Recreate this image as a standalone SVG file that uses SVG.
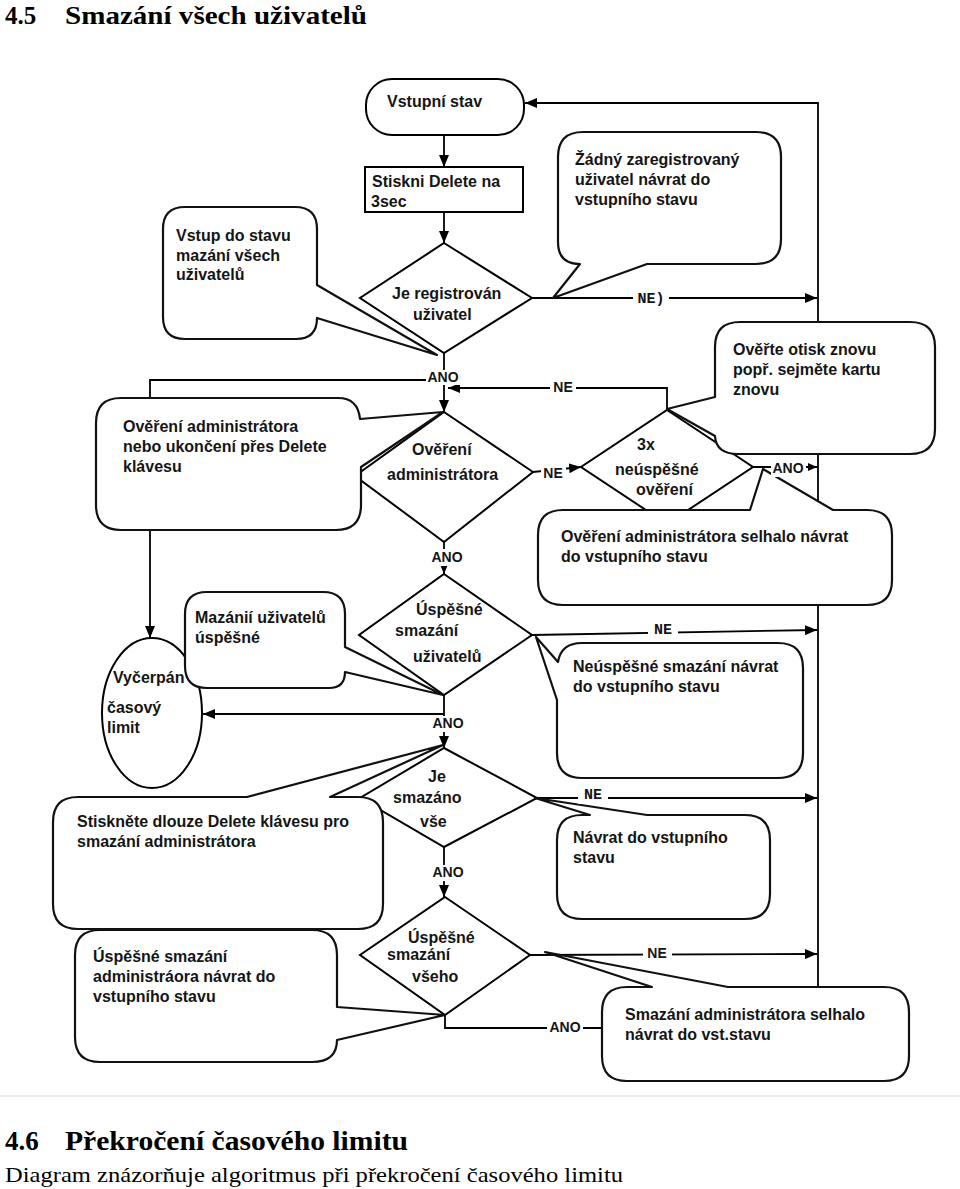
<svg xmlns="http://www.w3.org/2000/svg" width="960" height="1189" viewBox="0 0 960 1189">
<defs>
<marker id="ah" viewBox="0 0 12 10" refX="12" refY="5" markerWidth="12" markerHeight="10" markerUnits="userSpaceOnUse" orient="auto"><path d="M0,0 L12,5 L0,10 Z" fill="#000"/></marker>
<marker id="ahs" viewBox="0 0 9 8" refX="9" refY="4" markerWidth="9" markerHeight="8" markerUnits="userSpaceOnUse" orient="auto"><path d="M0,0 L9,4 L0,8 Z" fill="#000"/></marker>
</defs>
<style>
.ln{fill:none;stroke:#000;stroke-width:1.8}
.nd{fill:#fff;stroke:#000;stroke-width:2}
.cl{fill:#fff;stroke:#111;stroke-width:2.2;stroke-linejoin:round}
.t{font-family:"Liberation Sans",Arial,sans-serif;font-size:16px;font-weight:bold;fill:#151515}
.lb{font-family:"Liberation Sans",Arial,sans-serif;font-size:14px;font-weight:bold;fill:#151515;text-anchor:middle}
.mo{font-family:"Liberation Mono","Courier New",monospace;font-size:15px;font-weight:bold;fill:#151515;text-anchor:middle}
.bg{fill:#fff}
.h{font-family:"Liberation Serif","Times New Roman",serif;font-weight:bold;font-size:25px;fill:#000}
.h2{font-family:"Liberation Serif","Times New Roman",serif;font-weight:bold;font-size:27px;fill:#000}
.p{font-family:"Liberation Serif","Times New Roman",serif;font-size:22px;fill:#000}
</style>
<rect width="960" height="1189" fill="#fff"/>
<g id="headings">
<text class="h" x="5" y="24">4.5</text>
<text class="h" x="65" y="24" textLength="302" lengthAdjust="spacingAndGlyphs">Smazání všech uživatelů</text>
<line x1="0" y1="1096" x2="960" y2="1096" stroke="#e4e4e4" stroke-width="1.5"/>
<text class="h2" x="5" y="1150">4.6</text>
<text class="h2" x="65" y="1150" textLength="343" lengthAdjust="spacingAndGlyphs">Překročení časového limitu</text>
<text class="p" x="5" y="1182" textLength="618" lengthAdjust="spacingAndGlyphs">Diagram znázorňuje algoritmus při překročení časového limitu</text>
</g>
<g id="connectors">
<line class="ln" x1="444" y1="135" x2="444" y2="167" marker-end="url(#ah)"/>
<line class="ln" x1="444" y1="212" x2="444" y2="243" marker-end="url(#ah)"/>
<line class="ln" x1="532" y1="298" x2="817" y2="298" marker-end="url(#ah)"/>
<polyline class="ln" points="818,1000 818,103 525,103" marker-end="url(#ah)"/>
<line class="ln" x1="444" y1="353" x2="444" y2="412" marker-end="url(#ah)"/>
<polyline class="ln" points="444,380 150,380 150,638" marker-end="url(#ah)"/>
<polyline class="ln" points="667,410 667,388 448,388" marker-end="url(#ah)"/>
<line class="ln" x1="533" y1="472" x2="581" y2="467" marker-end="url(#ah)"/>
<line class="ln" x1="753" y1="467" x2="817" y2="467" marker-end="url(#ahs)"/>
<line class="ln" x1="444" y1="542" x2="444" y2="574" marker-end="url(#ah)"/>
<line class="ln" x1="532" y1="635" x2="817" y2="630" marker-end="url(#ah)"/>
<line class="ln" x1="444" y1="695" x2="444" y2="748" marker-end="url(#ah)"/>
<line class="ln" x1="444" y1="714" x2="203" y2="714" marker-end="url(#ah)"/>
<line class="ln" x1="537" y1="798" x2="817" y2="798" marker-end="url(#ah)"/>
<line class="ln" x1="444" y1="847" x2="444" y2="897" marker-end="url(#ah)"/>
<line class="ln" x1="530" y1="955" x2="817" y2="954" marker-end="url(#ah)"/>
<polyline class="ln" points="445,1015 445,1028 602,1028"/>
</g>
<g id="start">
<rect class="nd" x="366" y="79" width="158" height="56" rx="26"/>
<text class="t" x="387" y="107">Vstupní stav</text>
</g>
<g id="press-delete">
<rect class="nd" x="365" y="167" width="158" height="45" stroke-width="3"/>
<text class="t" x="372" y="187">Stiskni Delete na</text>
<text class="t" x="371" y="207">3sec</text>
</g>
<g id="is-registered">
<polygon class="nd" points="444,243 532,298 444,353 360,298"/>
<text class="t" x="392" y="299">Je registrován</text>
<text class="t" x="413" y="320">uživatel</text>
</g>
<g id="admin-verify">
<polygon class="nd" points="444,412 533,472 444,542 355,476"/>
<text class="t" x="412" y="455">Ověření</text>
<text class="t" x="387" y="480">administrátora</text>
</g>
<g id="three-fails">
<polygon class="nd" points="667,410 753,467 667,524 581,467"/>
<text class="t" x="637" y="450">3x</text>
<text class="t" x="615" y="475">neúspěšné</text>
<text class="t" x="636" y="495">ověření</text>
</g>
<g id="users-deleted">
<polygon class="nd" points="444,574 532,635 444,695 359,635"/>
<text class="t" x="416" y="615">Úspěšné</text>
<text class="t" x="395" y="636">smazání</text>
<text class="t" x="413" y="662">uživatelů</text>
</g>
<g id="all-deleted">
<polygon class="nd" points="444,748 537,798 444,847 360,798"/>
<text class="t" x="428" y="782">Je</text>
<text class="t" x="393" y="803">smazáno</text>
<text class="t" x="420" y="827">vše</text>
</g>
<g id="all-success">
<polygon class="nd" points="445,897 530,955 445,1015 360,955"/>
<text class="t" x="408" y="943">Úspěšné</text>
<text class="t" x="387" y="960">smazání</text>
<text class="t" x="412" y="982">všeho</text>
</g>
<g id="timeout">
<ellipse class="nd" cx="152" cy="713" rx="50" ry="75"/>
<text class="t" x="113" y="683">Vyčerpán</text>
<text class="t" x="107" y="713">časový</text>
<text class="t" x="107" y="733">limit</text>
</g>
<g id="note-no-user">
<path class="cl" d="M583,132 H756 Q781,132 781,157 V239 Q781,264 756,264 H647 L553,298 L580,264 Q558,264 558,242 V157 Q558,132 583,132 Z"/>
<text class="t" x="575" y="165">Žádný zaregistrovaný</text>
<text class="t" x="575" y="185">uživatel návrat do</text>
<text class="t" x="575" y="205">vstupního stavu</text>
</g>
<g id="note-enter">
<path class="cl" d="M185,207 H295 Q317,207 317,229 V285 L437,355 L317,318 Q317,339 296,339 H185 Q163,339 163,317 V229 Q163,207 185,207 Z"/>
<text class="t" x="176" y="241">Vstup do stavu</text>
<text class="t" x="176" y="261">mazání všech</text>
<text class="t" x="176" y="280">uživatelů</text>
</g>
<g id="note-admin">
<path class="cl" d="M121,398 H338 Q358,398 360,419 L443,412 L361,467 V505 Q361,530 336,530 H121 Q96,530 96,505 V423 Q96,398 121,398 Z"/>
<text class="t" x="123" y="432">Ověření administrátora</text>
<text class="t" x="123" y="452">nebo ukončení přes Delete</text>
<text class="t" x="123" y="472">klávesu</text>
</g>
<g id="note-retry">
<path class="cl" d="M740,322 H910 Q935,322 935,347 V429 Q935,454 910,454 H738 Q716,454 715,436 L667,409 L715,397 V347 Q715,322 740,322 Z"/>
<text class="t" x="733" y="355">Ověřte otisk znovu</text>
<text class="t" x="733" y="375">popř. sejměte kartu</text>
<text class="t" x="733" y="395">znovu</text>
</g>
<g id="note-admin-failed">
<path class="cl" d="M563,510 H750 L763,469 L833,510 H867 Q892,510 892,535 V580 Q892,605 867,605 H563 Q538,605 538,580 V535 Q538,510 563,510 Z"/>
<text class="t" x="561" y="542">Ověření administrátora selhalo návrat</text>
<text class="t" x="561" y="562">do vstupního stavu</text>
</g>
<g id="note-delete-failed">
<path class="cl" d="M582,643 H778 Q803,643 803,668 V753 Q803,778 778,778 H582 Q557,778 557,753 V700 L536,637 L558,662 Q561,643 582,643 Z"/>
<text class="t" x="573" y="672">Neúspěšné smazání návrat</text>
<text class="t" x="573" y="692">do vstupního stavu</text>
</g>
<g id="note-users-ok">
<path class="cl" d="M207,592 H323 Q345,592 345,614 V647 L443,695 L345,672 Q345,688 329,688 H207 Q185,688 185,666 V614 Q185,592 207,592 Z"/>
<text class="t" x="195" y="623">Mazánií uživatelů</text>
<text class="t" x="195" y="643">úspěšné</text>
</g>
<g id="note-long-press">
<path class="cl" d="M78,797 H247 L443,745 L330,797 H358 Q383,797 383,822 V904 Q383,929 358,929 H78 Q53,929 53,904 V822 Q53,797 78,797 Z"/>
<text class="t" x="77" y="827">Stiskněte dlouze Delete klávesu pro</text>
<text class="t" x="77" y="847">smazání administrátora</text>
</g>
<g id="note-return">
<path class="cl" d="M582,815 H590 L535,798 L647,815 H745 Q770,815 770,840 V894 Q770,919 745,919 H582 Q557,919 557,894 V840 Q557,815 582,815 Z"/>
<text class="t" x="573" y="843">Návrat do vstupního</text>
<text class="t" x="573" y="863">stavu</text>
</g>
<g id="note-admin-deleted">
<path class="cl" d="M100,930 H312 Q337,930 337,955 V1007 L445,1015 L337,1040 Q337,1062 312,1062 H100 Q75,1062 75,1037 V955 Q75,930 100,930 Z"/>
<text class="t" x="93" y="962">Úspěšné smazání</text>
<text class="t" x="93" y="982">administráora návrat do</text>
<text class="t" x="93" y="1002">vstupního stavu</text>
</g>
<g id="note-admin-delete-failed">
<path class="cl" d="M627,987 H652 L545,952 L728,987 H884 Q909,987 909,1012 V1056 Q909,1081 884,1081 H627 Q602,1081 602,1056 V1012 Q602,987 627,987 Z"/>
<text class="t" x="625" y="1020">Smazání administrátora selhalo</text>
<text class="t" x="625" y="1040">návrat do vst.stavu</text>
</g>
<g id="labels">
<rect class="bg" x="633" y="288" width="36" height="18"/><text class="mo" x="651" y="303">NE)</text>
<rect class="bg" x="426" y="370" width="34" height="15"/><text class="lb" x="443" y="382">ANO</text>
<rect class="bg" x="550" y="380" width="26" height="15"/><text class="lb" x="563" y="392">NE</text>
<rect class="bg" x="541" y="463" width="25" height="18"/><text class="lb" x="553" y="478">NE</text>
<rect class="bg" x="771" y="460" width="35" height="17"/><text class="lb" x="788" y="473">ANO</text>
<rect class="bg" x="430" y="549" width="34" height="17"/><text class="lb" x="447" y="562">ANO</text>
<rect class="bg" x="648" y="622" width="30" height="16"/><text class="mo" x="663" y="634">NE</text>
<rect class="bg" x="431" y="716" width="34" height="16"/><text class="lb" x="448" y="728">ANO</text>
<rect class="bg" x="578" y="786" width="30" height="18"/><text class="mo" x="593" y="799">NE</text>
<rect class="bg" x="431" y="865" width="34" height="16"/><text class="lb" x="448" y="877">ANO</text>
<rect class="bg" x="643" y="944" width="29" height="18"/><text class="lb" x="657" y="958">NE</text>
<rect class="bg" x="547" y="1019" width="36" height="17"/><text class="lb" x="565" y="1032">ANO</text>
</g>
</svg>
